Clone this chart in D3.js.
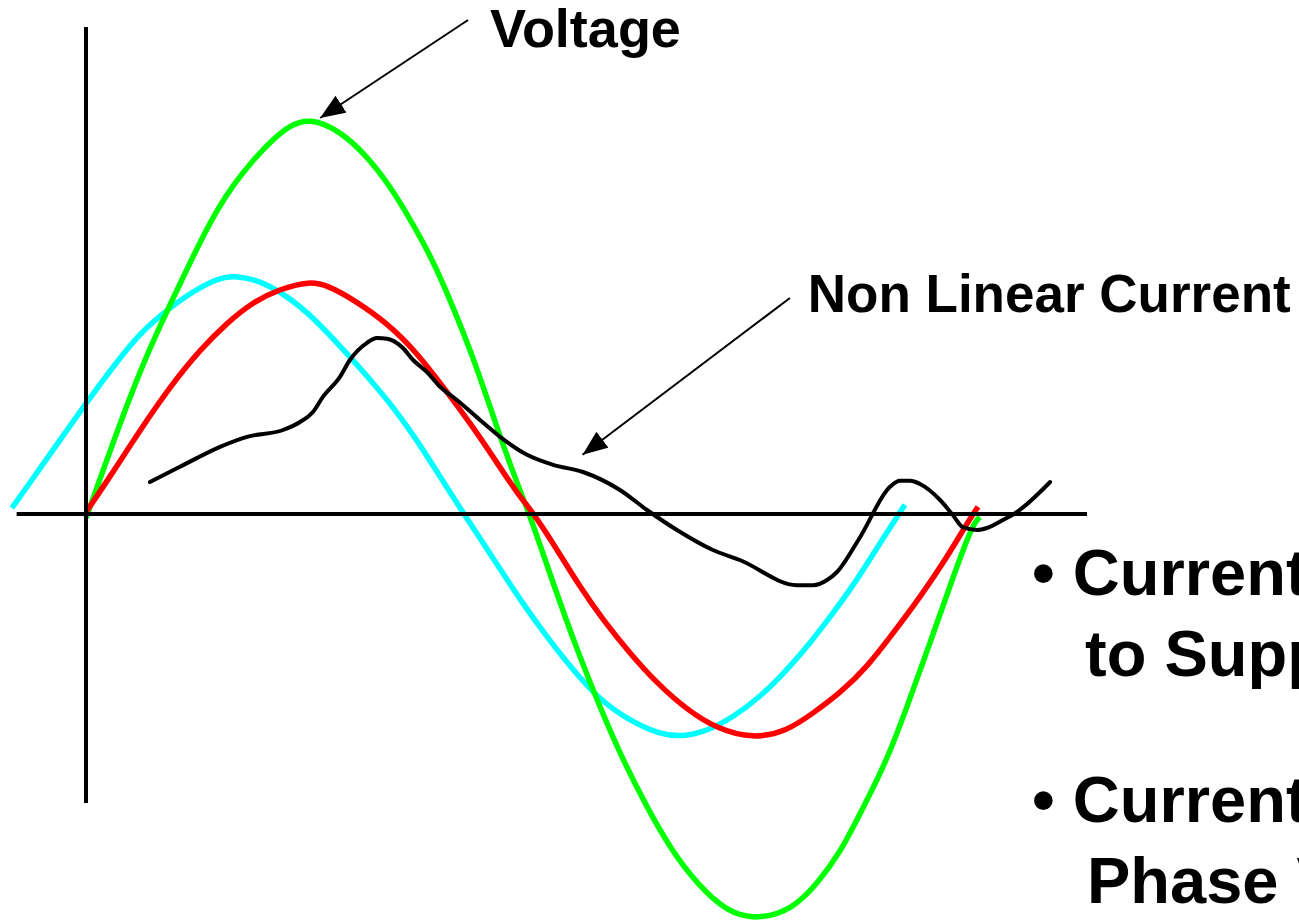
<!DOCTYPE html>
<html>
<head>
<meta charset="utf-8">
<script src="https://cdn.jsdelivr.net/npm/d3@7"></script>
<style>
  html, body { margin: 0; padding: 0; background: #fff; overflow: hidden; }
  svg { display: block; }
  text { font-family: "Liberation Sans", Arial, sans-serif; font-weight: bold; fill: #000; }
</style>
</head>
<body>
<script>
// phase angle in degrees, value in per-unit (voltage peak ~ 1)

// Voltage (green)
const voltageDeg = [0, 19, 28.7, 37.9, 46, 52.9, 59.3, 67.4, 75.5, 82.3, 90.4, 102.5, 113.4, 122.7, 130.8, 140,
  148.1, 156.2, 164.3, 172.3, 179.2, 188.5, 198.2, 207.4, 216.7, 226.4, 235.7, 246.6, 258.7, 270.8,
  285.3, 295, 304.3, 313.6, 323.3, 331.3, 340.6, 349.9, 358, 360.8]
const voltageVal = [-0.01, 0.318, 0.455, 0.575, 0.68, 0.76, 0.822, 0.885, 0.937, 0.972, 0.99, 0.958, 0.895, 0.82, 0.737, 0.635,
  0.518, 0.393, 0.245, 0.103, -0.003, -0.173, -0.34, -0.483, -0.615, -0.733, -0.835, -0.925, -0.995, -1.015,
  -0.988, -0.925, -0.848, -0.735, -0.615, -0.483, -0.323, -0.158, -0.023, -0.008]

// Linear current in phase (red)
const inPhaseDeg = [0, 9.7, 21.8, 35.1, 46, 56.9, 67.4, 78.3, 90.4, 97.3, 107.8, 121.5, 133.6, 144.1, 155, 165.9,
  173.9, 180.8, 188.5, 199.4, 208.7, 219.5, 230.4, 242.6, 254.7, 269.2, 282.9, 293.4, 304.3, 315.2,
  325.7, 336.6, 347.5, 355.6, 360]
const inPhaseVal = [0.005, 0.093, 0.21, 0.328, 0.41, 0.478, 0.53, 0.563, 0.582, 0.572, 0.537, 0.478, 0.403, 0.318, 0.228, 0.128,
  0.053, 0, -0.073, -0.183, -0.265, -0.348, -0.423, -0.49, -0.537, -0.562, -0.543, -0.498, -0.448, -0.383,
  -0.298, -0.208, -0.108, -0.023, 0.018]

// Linear current leading (cyan)
const leadingDeg = [-29.9, -19.8, -10.5, 0.4, 10.9, 21.8, 32.7, 43.2, 52.9, 59.3, 70.2, 81.1, 91.6, 106.5, 115.8,
  123.9, 133.6, 142.9, 152.2, 163, 175.2, 186.1, 196.5, 207.4, 219.5, 231.7, 240.9, 250.6, 261.1,
  272, 282.9, 292.2, 301.5, 311.2, 320.4, 330.5]
const leadingVal = [0.015, 0.103, 0.185, 0.28, 0.368, 0.453, 0.51, 0.557, 0.588, 0.597, 0.584, 0.545, 0.493, 0.393, 0.328,
  0.268, 0.185, 0.093, 0.003, -0.098, -0.215, -0.308, -0.39, -0.465, -0.517, -0.551, -0.557, -0.543, -0.508,
  -0.458, -0.39, -0.323, -0.248, -0.165, -0.073, 0.023]

// Non linear current (black)
const nonLinearDeg = [25.8, 37.9, 54.1, 65, 79.5, 86.4, 91.6, 95.6, 102.5, 106.5, 113.4, 117.4, 121.5, 127.9, 132,
  137.6, 142.9, 149.7, 159, 167.1, 178, 188.5, 200.6, 215.5, 226.4, 238.5, 253, 263.9, 286.9, 293.4,
  299.1, 303.1, 312.4, 324.5, 328.5, 332.6, 336.6, 344.7, 349.9, 353.9, 359.6, 363.6, 370.1, 375.7, 389.1]
const nonLinearVal = [0.08, 0.118, 0.168, 0.193, 0.21, 0.23, 0.255, 0.293, 0.343, 0.385, 0.428, 0.44, 0.438, 0.415, 0.385,
  0.355, 0.318, 0.285, 0.235, 0.193, 0.148, 0.123, 0.105, 0.06, 0.01, -0.04, -0.09, -0.115, -0.178, -0.178,
  -0.165, -0.145, -0.058, 0.068, 0.083, 0.083, 0.075, 0.035, -0.003, -0.033, -0.04, -0.035, -0.015, 0.005, 0.08]

// axis extents (degrees / per-unit)
const axisDeg = [-28, 404]
const axisVal = [-0.7225, 1.2175]

// labels: text, arrow start [deg, val], arrow tip [deg, val], text anchor [deg, val]
const labelNames = ["Voltage", "Non Linear Current"]
const labelFrom = [[154.2, 1.235], [284.1, 0.54]]
const labelTo = [[94.5, 0.99], [200.4, 0.148]]
const labelAt = [[163, 1.167], [291.3, 0.505]]
const labelSize = [54, 53]

const bulletLines = ["\u2022 Current", "to Supp", "\u2022 Current", "Phase V"]

const W = 1299, H = 923

const svg = d3.select("body")
  .append("svg")
  .attr("width", W)
  .attr("height", H)

const x = d3.scaleLinear().domain([0, 360]).range([86, 978])
const y = d3.scaleLinear().domain([-1, 1]).range([914, 114])

const smooth = d3.line()
  .x(d => x(d[0]))
  .y(d => y(d[1]))
  .curve(d3.curveBasis)

const trace = d3.line()
  .x(d => x(d[0]))
  .y(d => y(d[1]))
  .curve(d3.curveMonotoneX)

const series = [
  { deg: leadingDeg, val: leadingVal, color: "#00ffff" },
  { deg: voltageDeg, val: voltageVal, color: "#00ff00" },
  { deg: inPhaseDeg, val: inPhaseVal, color: "#ff0000" }
]

series.forEach(s => {
  svg.append("path")
    .datum(d3.zip(s.deg, s.val))
    .attr("d", smooth)
    .attr("fill", "none")
    .attr("stroke", s.color)
    .attr("stroke-width", 5.5)
})

// axes
svg.append("line")
  .attr("x1", x(axisDeg[0])).attr("x2", x(axisDeg[1]))
  .attr("y1", y(0)).attr("y2", y(0))
  .attr("stroke", "#000").attr("stroke-width", 4)

svg.append("line")
  .attr("x1", x(0)).attr("x2", x(0))
  .attr("y1", y(axisVal[1])).attr("y2", y(axisVal[0]))
  .attr("stroke", "#000").attr("stroke-width", 4)

// non linear current
svg.append("path")
  .datum(d3.zip(nonLinearDeg, nonLinearVal))
  .attr("d", trace)
  .attr("fill", "none")
  .attr("stroke", "#000")
  .attr("stroke-width", 4)
  .attr("stroke-linejoin", "round")
  .attr("stroke-linecap", "round")

// arrow head
svg.append("defs").append("marker")
  .attr("id", "head")
  .attr("markerUnits", "userSpaceOnUse")
  .attr("markerWidth", 28)
  .attr("markerHeight", 22)
  .attr("refX", 25)
  .attr("refY", 10)
  .attr("orient", "auto")
  .append("path")
  .attr("d", "M0,0 L25,10 L0,20 Z")
  .attr("fill", "#000")

labelNames.forEach((name, i) => {
  svg.append("line")
    .attr("x1", x(labelFrom[i][0])).attr("y1", y(labelFrom[i][1]))
    .attr("x2", x(labelTo[i][0])).attr("y2", y(labelTo[i][1]))
    .attr("stroke", "#000")
    .attr("stroke-width", 2)
    .attr("marker-end", "url(#head)")

  svg.append("text")
    .attr("x", x(labelAt[i][0]))
    .attr("y", y(labelAt[i][1]))
    .attr("font-size", labelSize[i])
    .text(name)
})

// bullet text on the right (cut by the slide edge)
const bulletX = [1032, 1085, 1032, 1087]
const bulletY = [595, 676, 822, 903]
bulletLines.forEach((t, i) => {
  svg.append("text")
    .attr("x", bulletX[i])
    .attr("y", bulletY[i])
    .attr("font-size", 65)
    .text(t)
})
</script>
</body>
</html>
